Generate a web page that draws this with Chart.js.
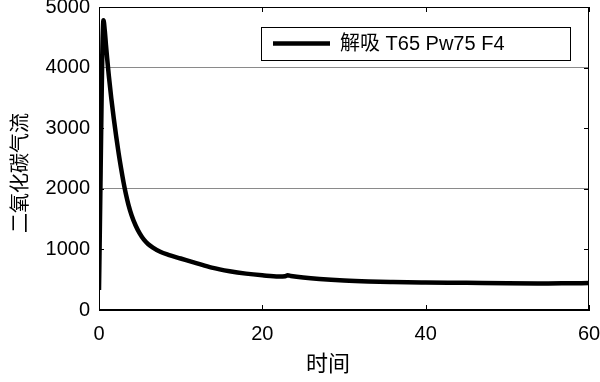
<!DOCTYPE html>
<html>
<head>
<meta charset="utf-8">
<script src="https://cdn.jsdelivr.net/npm/chart.js@4.4.1/dist/chart.umd.min.js"></script>
<style>
html,body{margin:0;padding:0;background:#fff;}
#wrap{width:600px;height:382px;position:relative;}
</style>
</head>
<body>
<div id="wrap"><canvas id="c" width="600" height="382"></canvas></div>
<script>
const seriesLabel = "解吸 T65 Pw75 F4";
const xTitle = "时间";
const yTitle = "二氧化碳气流";
const times  = [0, 0.1, 0.2, 0.3, 0.4, 0.5, 0.55, 0.7, 0.85, 1.0, 1.2, 1.5, 1.8, 2.1, 2.4, 2.7, 3.0, 3.3, 3.6, 4.0, 4.5, 5.0, 5.5, 6.0, 6.6, 7.5, 8.5, 10, 12, 13.8, 16, 18, 20, 22, 22.8, 23.1, 23.5, 25, 27, 30, 33, 36, 40, 45, 50, 55, 57, 60];
const values = [330, 1300, 2300, 3300, 4200, 4700, 4780, 4620, 4380, 4150, 3870, 3500, 3170, 2870, 2590, 2340, 2110, 1910, 1740, 1560, 1390, 1260, 1160, 1090, 1030, 960, 910, 850, 770, 700, 640, 600, 572, 552, 558, 572, 562, 535, 510, 485, 470, 462, 455, 448, 440, 438, 440, 445];
const xTicks = [0, 20, 40, 60];
const yTicks = [0, 1000, 2000, 3000, 4000, 5000];
const gridValues = [2000, 4000];

const points = times.map((t, i) => ({x: t, y: values[i]}));
const latin = "'Liberation Sans', Arial, 'Noto Sans CJK SC', sans-serif";
const cjk = "'Noto Sans CJK SC', 'Liberation Sans', sans-serif";

const framePlugin = {
  id: 'frame',
  afterDraw(chart) {
    const {ctx, chartArea: a, scales} = chart;
    ctx.save();
    ctx.strokeStyle = '#000';
    ctx.lineWidth = 1;
    ctx.strokeRect(a.left + 0.5, a.top + 0.5, a.right - a.left - 1, a.bottom - a.top - 1);
    const tl = 5;
    ctx.beginPath();
    yTicks.forEach(v => {
      const y = Math.round(scales.y.getPixelForValue(v)) + 0.5;
      ctx.moveTo(a.left, y); ctx.lineTo(a.left + tl, y);
      ctx.moveTo(a.right, y); ctx.lineTo(a.right - tl, y);
    });
    xTicks.forEach(v => {
      const x = Math.round(scales.x.getPixelForValue(v)) + 0.5;
      ctx.moveTo(x, a.bottom); ctx.lineTo(x, a.bottom - tl);
      ctx.moveTo(x, a.top); ctx.lineTo(x, a.top + tl);
    });
    ctx.stroke();
    // legend
    const bx = 261, by = 27, bw = 309, bh = 33;
    ctx.fillStyle = '#fff';
    ctx.fillRect(bx, by, bw, bh);
    ctx.strokeRect(bx + 0.5, by + 0.5, bw, bh);
    const ly = by + bh / 2;
    ctx.beginPath();
    ctx.lineWidth = 4.5;
    ctx.moveTo(273, ly); ctx.lineTo(330, ly);
    ctx.stroke();
    ctx.fillStyle = '#000';
    ctx.font = "20px " + latin;
    ctx.textBaseline = 'middle';
    ctx.textAlign = 'left';
    ctx.fillText(chart.data.datasets[0].label, 340, ly + 1);
    // axis titles
    ctx.textAlign = 'center';
    ctx.font = "22px " + cjk;
    ctx.fillText(xTitle, 328, 363);
    ctx.translate(19, 173);
    ctx.rotate(-Math.PI / 2);
    ctx.font = "20px " + cjk;
    ctx.fillText(yTitle, 0, 0);
    ctx.restore();
  }
};

new Chart(document.getElementById('c'), {
  type: 'line',
  data: {
    datasets: [{
      label: seriesLabel,
      data: points,
      borderColor: '#000',
      borderWidth: 4.5,
      pointRadius: 0,
      cubicInterpolationMode: 'monotone',
      fill: false
    }]
  },
  options: {
    responsive: false,
    animation: false,
    layout: {padding: {top: 7, right: 11, left: 0, bottom: 0}},
    plugins: {legend: {display: false}, tooltip: {enabled: false}},
    scales: {
      x: {
        type: 'linear', min: 0, max: 60,
        afterBuildTicks: s => { s.ticks = xTicks.map(v => ({value: v})); },
        afterFit: s => { s.height = 72; s.paddingLeft = 0; s.paddingRight = 0; },
        grid: {display: false, drawTicks: false},
        border: {display: true, color: '#000', width: 1},
        ticks: {color: '#000', padding: 12, font: {family: latin, size: 20}, maxRotation: 0, callback: v => String(v)},
        title: {display: false, text: xTitle}
      },
      y: {
        min: 0, max: 5000,
        afterBuildTicks: s => { s.ticks = yTicks.map(v => ({value: v})); },
        afterFit: s => { s.width = 99; s.paddingTop = 0; s.paddingBottom = 0; },
        grid: {
          drawTicks: false,
          color: c => gridValues.includes(c.tick && c.tick.value) ? '#8a8a8a' : 'rgba(0,0,0,0)',
          lineWidth: 1
        },
        border: {display: true, color: '#000', width: 1},
        ticks: {color: '#000', padding: 9, font: {family: latin, size: 20}, callback: v => String(v)},
        title: {display: false, text: yTitle}
      }
    }
  },
  plugins: [framePlugin]
});
</script>
</body>
</html>
